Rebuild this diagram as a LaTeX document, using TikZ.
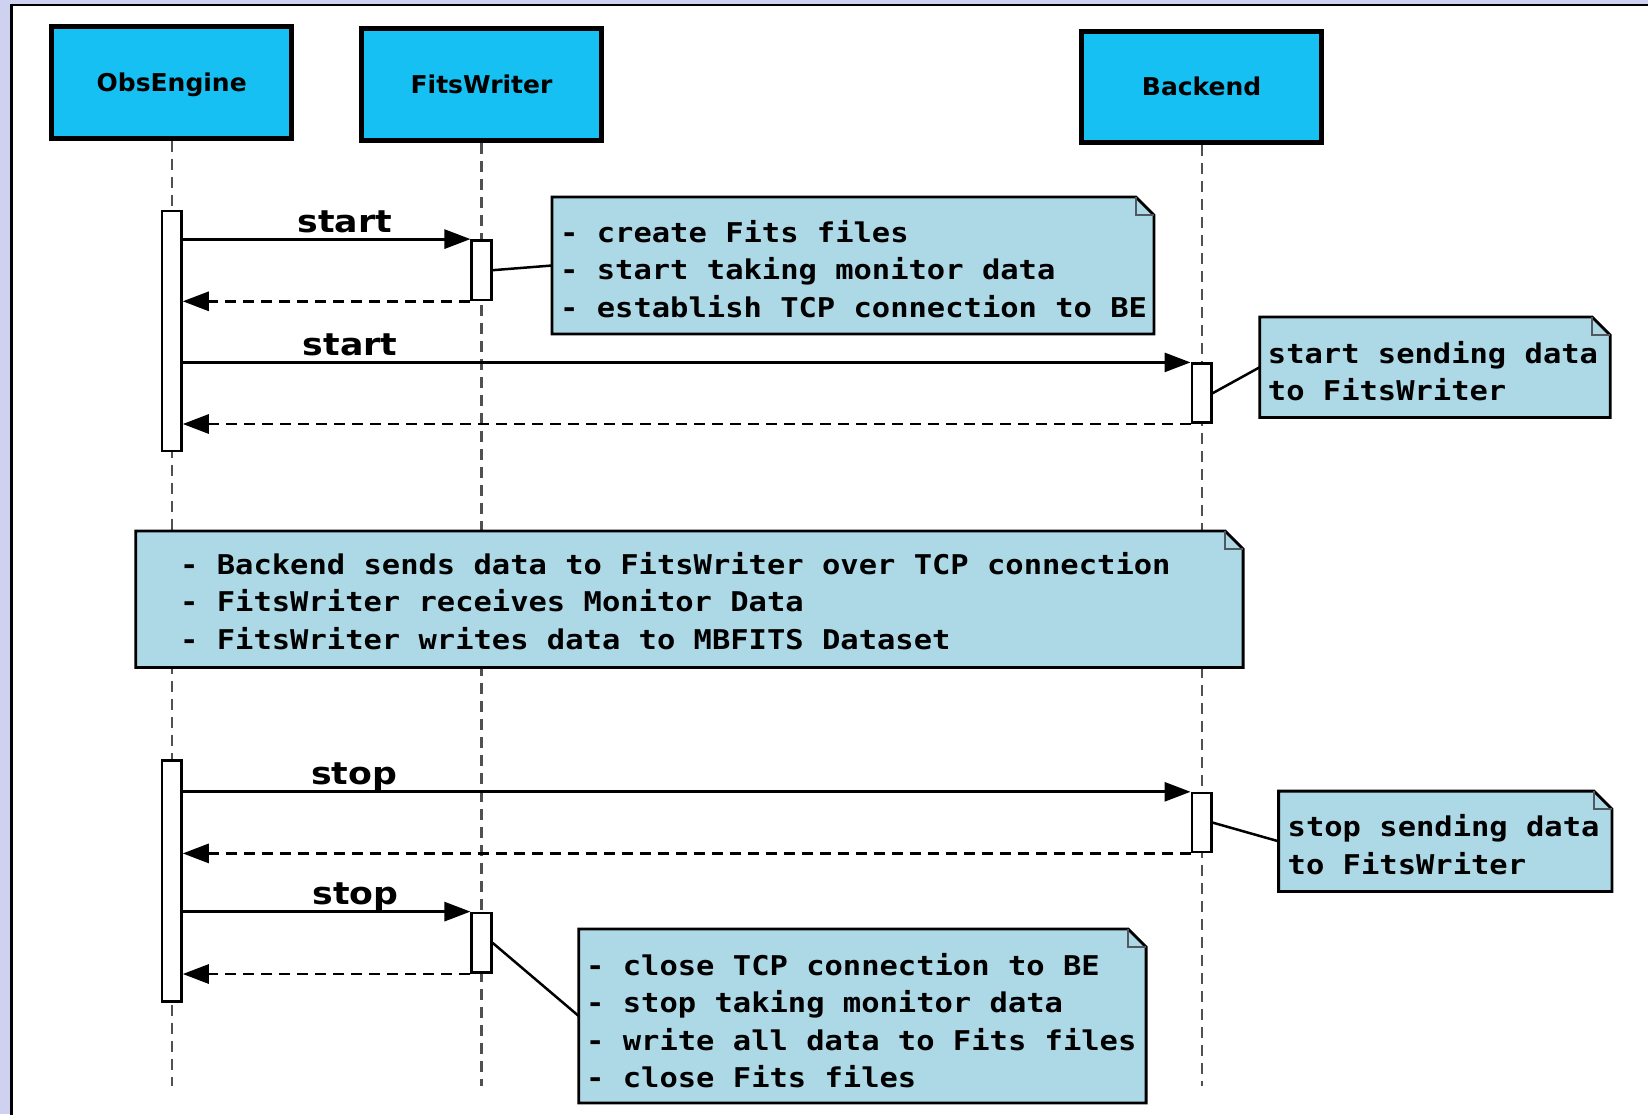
\documentclass[tikz,border=0pt]{standalone}
\usepackage{fontspec}
\usetikzlibrary{arrows.meta,calc}

% fonts: bold sans for lifeline heads and message names, bold mono for notes
\newfontfamily\headfont[FakeStretch=1.02]{DejaVu Sans}
\newfontfamily\msgfont[FakeStretch=1.12]{DejaVu Sans}
\newfontfamily\notefont[FakeStretch=1.12]{DejaVu Sans Mono}

\definecolor{pagebg}{RGB}{206,210,240}
\definecolor{headbg}{RGB}{22,192,242}
\definecolor{notebg}{RGB}{173,216,230}
\definecolor{foldgray}{RGB}{80,88,96}
\definecolor{lifegray}{RGB}{80,80,80}

% outline of a note with a folded top-right corner, drawn round node #1
\newcommand\notebody[1]{%
  \filldraw[notebox] (#1.north west) -- ([xshift=-18pt]#1.north east)
    -- ([yshift=-18pt]#1.north east) -- (#1.south east) -- (#1.south west) -- cycle;
  \draw[foldline] ([xshift=-18pt]#1.north east) -- ([xshift=-18pt,yshift=-18pt]#1.north east)
    -- ([yshift=-18pt]#1.north east);}

\begin{document}
\begin{tikzpicture}[x=1pt,y=-1pt,
  head/.style={draw, line width=5pt, fill=headbg, inner sep=0pt,
    minimum width=240.5pt, minimum height=111.5pt,
    font=\headfont\bfseries\fontsize{24.5pt}{30pt}\selectfont,
    text height=17.9pt, text depth=0pt},
  lifeline/.style={draw=lifegray, line width=2.2pt, dash pattern=on 11pt off 7pt},
  act/.style={draw, fill=white, line width=2.6pt, minimum width=19.5pt, inner sep=0pt},
  call/.style={line width=2.8pt, -{Triangle[length=26pt,width=19pt]}},
  ret/.style={line width=2.8pt, dash pattern=on 11pt off 7pt,
    -{Triangle[length=26pt,width=19pt]}},
  msglabel/.style={anchor=base, yshift=7pt, inner sep=0pt,
    font=\msgfont\bfseries\fontsize{31pt}{36pt}\selectfont},
  noteshape/.style={inner sep=0pt, draw=none},
  notebox/.style={fill=notebg, draw=black, line width=2.8pt, line join=miter},
  foldline/.style={draw=foldgray, line width=1.6pt},
  notetext/.style={anchor=north west, inner sep=0pt, align=left,
    font=\notefont\bfseries\fontsize{27.2pt}{37.5pt}\selectfont},
  noteconn/.style={line width=2.5pt}
]
% page frame
\clip (0,0) rectangle (1648,1114);
\fill[pagebg] (0,0) rectangle (1648,1114);
\draw[fill=white, line width=2.8pt] (11.5,5) rectangle (1670,1130);

% lifeline heads
\node[head] (oe) at (171.7,82.3) {ObsEngine};
\node[head] (fw) at (481.5,84.5) {FitsWriter};
\node[head] (be) at (1201.6,87) {Backend};

% lifelines
\draw[lifeline] (oe.south) -- (oe.south |- 0,1086);
\draw[lifeline] (fw.south) -- (fw.south |- 0,1086);
\draw[lifeline] (be.south) -- (be.south |- 0,1086);

% notes
\node[noteshape, minimum width=601.5pt, minimum height=136.5pt] (n1) at (853,265.5) {};
\notebody{n1}
\node[notetext] (n1t) at (560,215.75)
  {\strut- create Fits files\\- start taking monitor data\\- establish TCP connection to BE};

\node[noteshape, minimum width=350pt, minimum height=100pt] (n2) at (1435,367.2) {};
\notebody{n2}
\node[notetext] (n2t) at (1267.7,336.75) {\strut start sending data\\to FitsWriter};

\node[noteshape, minimum width=1107pt, minimum height=136pt] (nm) at (689.4,599.2) {};
\notebody{nm}
\node[notetext] (nmt) at (180,547.75)
  {\strut- Backend sends data to FitsWriter over TCP connection\\- FitsWriter receives Monitor Data\\- FitsWriter writes data to MBFITS Dataset};

\node[noteshape, minimum width=333pt, minimum height=100pt] (n3) at (1445.3,841.3) {};
\notebody{n3}
\node[notetext] (n3t) at (1287.5,810.25) {\strut stop sending data\\to FitsWriter};

\node[noteshape, minimum width=567pt, minimum height=173.5pt] (n4) at (862.4,1016) {};
\notebody{n4}
\node[notetext] (n4t) at (586,948.75)
  {\strut- close TCP connection to BE\\- stop taking monitor data\\- write all data to Fits files\\- close Fits files};

% activations
\node[act, minimum height=240pt] (oe1) at (oe |- 0,331) {};
\node[act, minimum height=59.6pt] (fw1) at (fw |- 0,270.2) {};
\node[act, minimum height=59pt] (be1) at (be |- 0,393.2) {};
\node[act, minimum height=241pt] (oe2) at (oe |- 0,881) {};
\node[act, minimum height=59pt] (be2) at (be |- 0,822.6) {};
\node[act, minimum height=59.8pt] (fw2) at (fw |- 0,942.8) {};

% messages and replies
\draw[call] (fw1.north west -| oe1.east) -- node[msglabel, pos=0.563] {start} (fw1.north west);
\draw[ret] (fw1.south west) -- (fw1.south west -| oe1.east);
\draw[call] (be1.north west -| oe1.east) -- node[msglabel, pos=0.166] {start} (be1.north west);
\draw[ret] (be1.south west) -- (be1.south west -| oe1.east);
\draw[call] (be2.north west -| oe2.east) -- node[msglabel, pos=0.170] {stop} (be2.north west);
\draw[ret] (be2.south west) -- (be2.south west -| oe2.east);
\draw[call] (fw2.north west -| oe2.east) -- node[msglabel, pos=0.601] {stop} (fw2.north west);
\draw[ret] (fw2.south west) -- (fw2.south west -| oe2.east);

% note attachments
\draw[noteconn] (fw1.east) -- (n1.west);
\draw[noteconn] (be1.east) -- (n2.west);
\draw[noteconn] (be2.east) -- (n3.west);
\draw[noteconn] (fw2.east) -- (n4.west);
\end{tikzpicture}
\end{document}
